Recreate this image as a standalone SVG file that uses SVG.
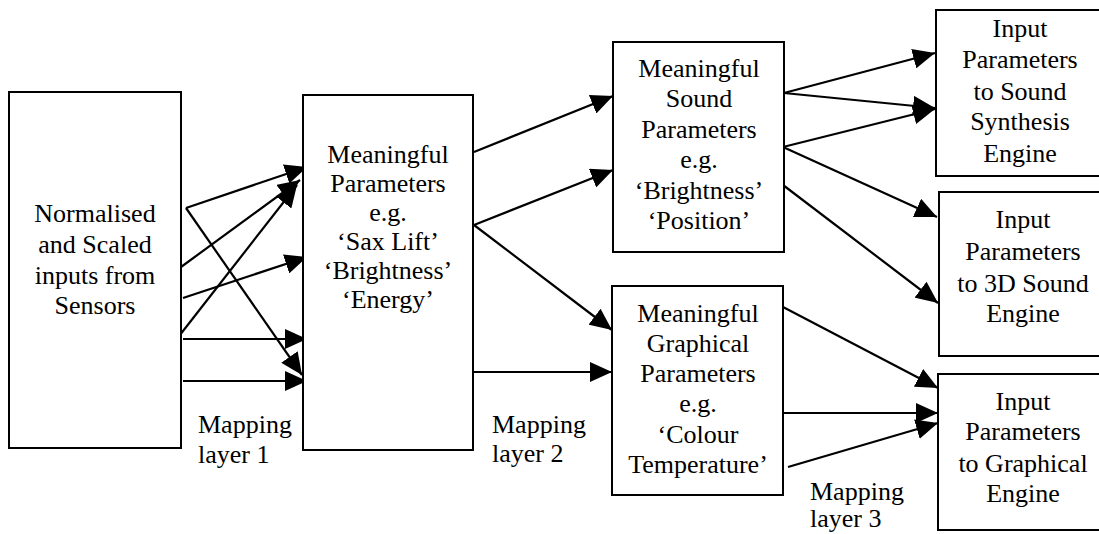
<svg xmlns="http://www.w3.org/2000/svg" width="1099" height="534" viewBox="0 0 1099 534">
<defs>
<marker id="ah" viewBox="0 0 22 20" refX="22" refY="10" markerWidth="22" markerHeight="20" markerUnits="userSpaceOnUse" orient="auto">
<path d="M0,0 L22,10 L0,20 z" fill="#000"/>
</marker>
</defs>
<rect width="1099" height="534" fill="#fff"/>
<g id="connectors" stroke="#000" stroke-width="2.2" fill="none" marker-end="url(#ah)">
<line x1="186" y1="208" x2="307" y2="167"/>
<line x1="181" y1="267" x2="300" y2="180"/>
<line x1="176" y1="340" x2="297" y2="185"/>
<line x1="183" y1="298" x2="307" y2="257"/>
<line x1="183" y1="339" x2="307" y2="339"/>
<line x1="186" y1="208" x2="302" y2="375"/>
<line x1="183" y1="381" x2="307" y2="381"/>
<line x1="474" y1="152" x2="613" y2="96"/>
<line x1="474" y1="225" x2="613" y2="170"/>
<line x1="474" y1="225" x2="612" y2="330"/>
<line x1="474" y1="372" x2="612" y2="372"/>
<line x1="784" y1="93" x2="935" y2="53"/>
<line x1="784" y1="93" x2="935" y2="108"/>
<line x1="783" y1="147" x2="935" y2="109"/>
<line x1="783" y1="147" x2="937" y2="217"/>
<line x1="783" y1="185" x2="938" y2="303"/>
<line x1="783" y1="307" x2="938" y2="388"/>
<line x1="783" y1="413" x2="938" y2="413"/>
<line x1="788" y1="467" x2="938" y2="423"/>
</g>
<g id="node-inputs">
<rect x="9" y="92" width="172" height="356" fill="#fff" stroke="#000" stroke-width="2"/>
<text font-family="Liberation Serif" font-size="26" text-anchor="middle" x="95" y="222">Normalised</text>
<text font-family="Liberation Serif" font-size="26" text-anchor="middle" x="95" y="253">and Scaled</text>
<text font-family="Liberation Serif" font-size="26" text-anchor="middle" x="95" y="284">inputs from</text>
<text font-family="Liberation Serif" font-size="26" text-anchor="middle" x="95" y="314">Sensors</text>
</g>
<g id="node-meaningful">
<rect x="303" y="95" width="170" height="355" fill="#fff" stroke="#000" stroke-width="2"/>
<text font-family="Liberation Serif" font-size="26" text-anchor="middle" x="388" y="163">Meaningful</text>
<text font-family="Liberation Serif" font-size="26" text-anchor="middle" x="388" y="192">Parameters</text>
<text font-family="Liberation Serif" font-size="26" text-anchor="middle" x="388" y="221">e.g.</text>
<text font-family="Liberation Serif" font-size="26" text-anchor="middle" x="388" y="250">‘Sax Lift’</text>
<text font-family="Liberation Serif" font-size="26" text-anchor="middle" x="388" y="279">‘Brightness’</text>
<text font-family="Liberation Serif" font-size="26" text-anchor="middle" x="388" y="308">‘Energy’</text>
</g>
<g id="node-sound">
<rect x="613" y="42" width="171" height="210" fill="#fff" stroke="#000" stroke-width="2"/>
<text font-family="Liberation Serif" font-size="26" text-anchor="middle" x="699" y="77">Meaningful</text>
<text font-family="Liberation Serif" font-size="26" text-anchor="middle" x="699" y="107">Sound</text>
<text font-family="Liberation Serif" font-size="26" text-anchor="middle" x="699" y="138">Parameters</text>
<text font-family="Liberation Serif" font-size="26" text-anchor="middle" x="699" y="168">e.g.</text>
<text font-family="Liberation Serif" font-size="26" text-anchor="middle" x="699" y="199">‘Brightness’</text>
<text font-family="Liberation Serif" font-size="26" text-anchor="middle" x="699" y="229">‘Position’</text>
</g>
<g id="node-graphical">
<rect x="612" y="286" width="171" height="209" fill="#fff" stroke="#000" stroke-width="2"/>
<text font-family="Liberation Serif" font-size="26" text-anchor="middle" x="698" y="322">Meaningful</text>
<text font-family="Liberation Serif" font-size="26" text-anchor="middle" x="698" y="352">Graphical</text>
<text font-family="Liberation Serif" font-size="26" text-anchor="middle" x="698" y="382">Parameters</text>
<text font-family="Liberation Serif" font-size="26" text-anchor="middle" x="698" y="412">e.g.</text>
<text font-family="Liberation Serif" font-size="26" text-anchor="middle" x="698" y="443">‘Colour</text>
<text font-family="Liberation Serif" font-size="26" text-anchor="middle" x="698" y="473">Temperature’</text>
</g>
<g id="node-synthesis">
<rect x="936" y="10" width="180" height="166" fill="#fff" stroke="#000" stroke-width="2"/>
<text font-family="Liberation Serif" font-size="26" text-anchor="middle" x="1020" y="37">Input</text>
<text font-family="Liberation Serif" font-size="26" text-anchor="middle" x="1020" y="68">Parameters</text>
<text font-family="Liberation Serif" font-size="26" text-anchor="middle" x="1020" y="100">to Sound</text>
<text font-family="Liberation Serif" font-size="26" text-anchor="middle" x="1020" y="130">Synthesis</text>
<text font-family="Liberation Serif" font-size="26" text-anchor="middle" x="1020" y="162">Engine</text>
</g>
<g id="node-3d">
<rect x="939" y="192" width="180" height="164" fill="#fff" stroke="#000" stroke-width="2"/>
<text font-family="Liberation Serif" font-size="26" text-anchor="middle" x="1023" y="228">Input</text>
<text font-family="Liberation Serif" font-size="26" text-anchor="middle" x="1023" y="260">Parameters</text>
<text font-family="Liberation Serif" font-size="26" text-anchor="middle" x="1023" y="292">to 3D Sound</text>
<text font-family="Liberation Serif" font-size="26" text-anchor="middle" x="1023" y="322">Engine</text>
</g>
<g id="node-graphical-engine">
<rect x="938" y="374" width="180" height="156" fill="#fff" stroke="#000" stroke-width="2"/>
<text font-family="Liberation Serif" font-size="26" text-anchor="middle" x="1023" y="410">Input</text>
<text font-family="Liberation Serif" font-size="26" text-anchor="middle" x="1023" y="440">Parameters</text>
<text font-family="Liberation Serif" font-size="26" text-anchor="middle" x="1023" y="472">to Graphical</text>
<text font-family="Liberation Serif" font-size="26" text-anchor="middle" x="1023" y="502">Engine</text>
</g>
<g id="labels">
<text font-family="Liberation Serif" font-size="26" x="198" y="433">Mapping</text>
<text font-family="Liberation Serif" font-size="26" x="198" y="463">layer 1</text>
<text font-family="Liberation Serif" font-size="26" x="492" y="433">Mapping</text>
<text font-family="Liberation Serif" font-size="26" x="492" y="462">layer 2</text>
<text font-family="Liberation Serif" font-size="26" x="810" y="500">Mapping</text>
<text font-family="Liberation Serif" font-size="26" x="810" y="527">layer 3</text>
</g>
</svg>
